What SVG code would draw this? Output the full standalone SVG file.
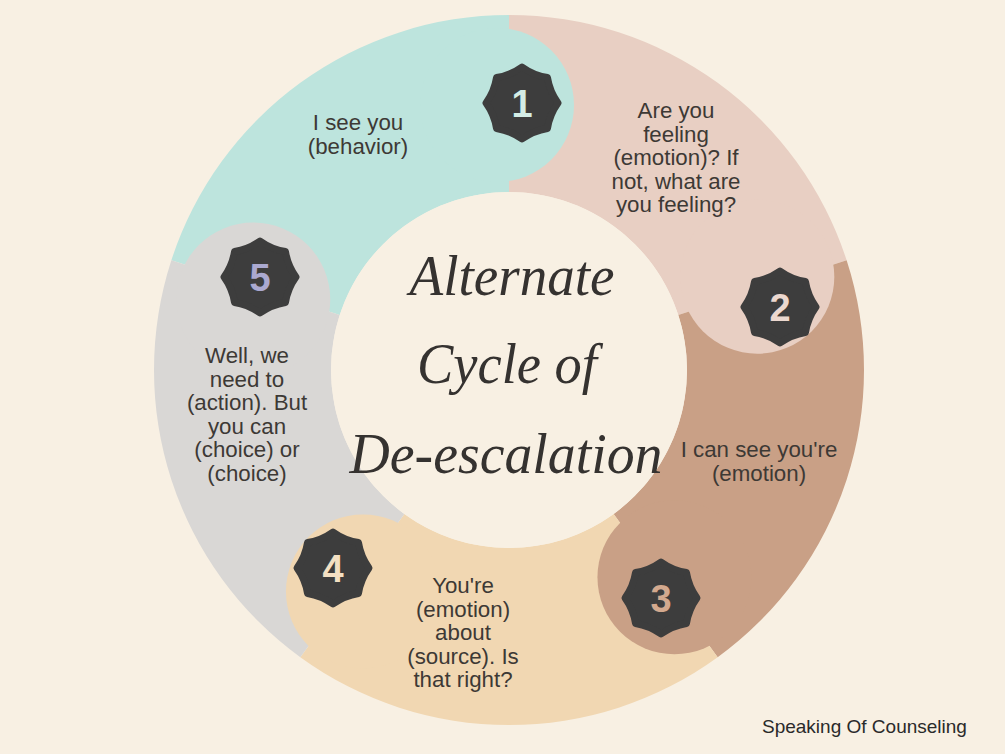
<svg xmlns="http://www.w3.org/2000/svg" width="1005" height="754" viewBox="0 0 1005 754">
<defs>
<style>
.lbl{font-family:"Liberation Sans","Arial",sans-serif;font-size:22.3px;fill:#3d3935;text-anchor:middle}
.num{font-family:"Liberation Sans","Arial",sans-serif;font-size:38px;font-weight:bold;text-anchor:middle}
.title{font-family:"Liberation Serif","Times New Roman",serif;font-style:italic;font-size:56px;fill:#353230;text-anchor:middle}
.badge{fill:#3d3d3d;stroke:#3d3d3d;stroke-width:7;stroke-linejoin:round}
.credit{font-family:"Liberation Sans","Arial",sans-serif;font-size:19px;fill:#2a2a2a}
</style>
<path id="star" d="M0,-36 Q11.48,-27.72 25.46,-25.46 Q27.72,-11.48 36,0 Q27.72,11.48 25.46,25.46 Q11.48,27.72 0,36 Q-11.48,27.72 -25.46,25.46 Q-27.72,11.48 -36,0 Q-27.72,-11.48 -25.46,-25.46 Q-11.48,-27.72 0,-36 Z"/>
</defs>
<rect width="1005" height="754" fill="#f8f0e3"/>

<g id="ring">
<path id="seg-teal" fill="#bde4dd" d="M171.37,260.30 A355,355 0 0 1 509,15 L509,192 A178,178 0 0 0 339.71,314.99 Z"/>
<path id="seg-pink" fill="#e8cfc3" d="M509,15 A355,355 0 0 1 846.63,260.30 L678.29,314.99 A178,178 0 0 0 509,192 Z"/>
<path id="seg-brown" fill="#c9a086" d="M846.63,260.30 A355,355 0 0 1 717.67,657.20 L613.63,514.01 A178,178 0 0 0 678.29,314.99 Z"/>
<path id="seg-beige" fill="#f1d7b2" d="M717.67,657.20 A355,355 0 0 1 300.33,657.20 L404.37,514.01 A178,178 0 0 0 613.63,514.01 Z"/>
<path id="seg-gray" fill="#d9d7d5" d="M300.33,657.20 A355,355 0 0 1 171.37,260.30 L339.71,314.99 A178,178 0 0 0 404.37,514.01 Z"/>
<circle fill="#bde4dd" cx="497" cy="105" r="77"/>
<circle fill="#e8cfc3" cx="757.32" cy="276.70" r="77"/>
<circle fill="#c9a086" cx="674.47" cy="577.34" r="77"/>
<circle fill="#f1d7b2" cx="362.95" cy="591.44" r="77"/>
<circle fill="#d9d7d5" cx="253.26" cy="299.52" r="77"/>
</g>

<g id="center">
<circle cx="509" cy="370" r="178" fill="#f8f0e3"/>
<text class="title" x="512" y="295" textLength="205" lengthAdjust="spacingAndGlyphs">Alternate</text>
<text class="title" x="507" y="383" textLength="180" lengthAdjust="spacingAndGlyphs">Cycle of</text>
<text class="title" x="506" y="473" textLength="313" lengthAdjust="spacingAndGlyphs">De-escalation</text>
</g>

<g id="step1">
<use href="#star" class="badge" x="522" y="103"/>
<text class="num" x="522" y="116.5" fill="#d4ede6">1</text>
<text class="lbl" x="358" y="130">I see you</text>
<text class="lbl" x="358" y="153.5">(behavior)</text>
</g>

<g id="step2">
<use href="#star" class="badge" x="780" y="307"/>
<text class="num" x="780" y="320.5" fill="#ecd8cf">2</text>
<text class="lbl" x="676" y="118">Are you</text>
<text class="lbl" x="676" y="141.5">feeling</text>
<text class="lbl" x="676" y="165">(emotion)? If</text>
<text class="lbl" x="676" y="188.5">not, what are</text>
<text class="lbl" x="676" y="212">you feeling?</text>
</g>

<g id="step3">
<use href="#star" class="badge" x="661" y="598"/>
<text class="num" x="661" y="611.5" fill="#d3a98e">3</text>
<text class="lbl" x="759" y="457">I can see you're</text>
<text class="lbl" x="759" y="480.5">(emotion)</text>
</g>

<g id="step4">
<use href="#star" class="badge" x="333" y="568"/>
<text class="num" x="333" y="581.5" fill="#f3e0c3">4</text>
<text class="lbl" x="463" y="593">You're</text>
<text class="lbl" x="463" y="616.5">(emotion)</text>
<text class="lbl" x="463" y="640">about</text>
<text class="lbl" x="463" y="663.5">(source). Is</text>
<text class="lbl" x="463" y="687">that right?</text>
</g>

<g id="step5">
<use href="#star" class="badge" x="260" y="277"/>
<text class="num" x="260" y="290.5" fill="#aba9d0">5</text>
<text class="lbl" x="247" y="363">Well, we</text>
<text class="lbl" x="247" y="386.5">need to</text>
<text class="lbl" x="247" y="410">(action). But</text>
<text class="lbl" x="247" y="433.5">you can</text>
<text class="lbl" x="247" y="457">(choice) or</text>
<text class="lbl" x="247" y="480.5">(choice)</text>
</g>

<g id="connectors"/>

<text class="credit" x="762" y="733">Speaking Of Counseling</text>
</svg>
